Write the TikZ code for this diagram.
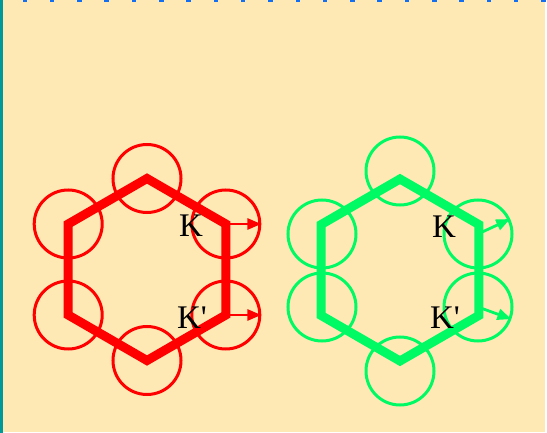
\documentclass[tikz,border=0pt]{standalone}
\usepackage{fontspec}
\setmainfont{Liberation Serif}
\usetikzlibrary{arrows.meta}
\definecolor{paper}{RGB}{254,233,181}
\definecolor{edgeteal}{RGB}{0,153,153}
\definecolor{tickblue}{RGB}{20,110,240}
\definecolor{kred}{RGB}{255,0,0}
\definecolor{kgreen}{RGB}{0,250,100}

\begin{document}
\begin{tikzpicture}[x=1pt, y=-1pt,
    ring/.style={circle, draw, line width=3pt, minimum size=68pt, inner sep=0pt},
    hexa/.style={line width=9pt, line join=miter},
    shiftarr/.style={-{Triangle[length=14pt, width=11pt]}, line width=2.8pt},
    klabel/.style={font=\fontsize{33}{33}\selectfont, inner sep=0pt}
  ]
    % frame
    \useasboundingbox (0,0) rectangle (547,433);
    \fill[white] (0,0) rectangle (547,433);
    \fill[paper] (0,0) rectangle (545,432);
    \fill[edgeteal] (0,0) rectangle (3,433);
    \foreach \i in {0,...,19}
      \fill[tickblue] (22.5+27.3*\i,0) rectangle +(4.5,1.6);

    % red lattice, rings on the corners
    \coordinate (rTop) at (147,178.5);
    \coordinate (rUR) at (225.8,224);
    \coordinate (rLR) at (225.8,315);
    \coordinate (rBot) at (147,360.5);
    \coordinate (rLL) at (68.2,315);
    \coordinate (rUL) at (68.2,224);
    \foreach \c in {rTop, rUR, rLR, rBot, rLL, rUL}
      \node[ring, kred] (ring-\c) at (\c) {};
    \draw[hexa, kred] (rTop) -- (rUR) -- (rLR) -- (rBot) -- (rLL) -- (rUL) -- cycle;
    \draw[shiftarr, kred] (rUR) -- (ring-rUR.east);
    \draw[shiftarr, kred] (rLR) -- (ring-rLR.east);
    \node[klabel] (rK) at (191,226) {K};
    \node[klabel] (rKp) at (192,318) {K\textquotesingle};

    % green lattice, rings moved off the corners
    \coordinate (gTop) at (400,179);
    \coordinate (gUR) at (478.8,224.5);
    \coordinate (gLR) at (478.8,315.5);
    \coordinate (gBot) at (400,361);
    \coordinate (gLL) at (321.2,315.5);
    \coordinate (gUL) at (321.2,224.5);
    \node[ring, kgreen] (gring-Top) at (400,171) {};
    \node[ring, kgreen] (gring-UR) at (478,234) {};
    \node[ring, kgreen] (gring-LR) at (478,307) {};
    \node[ring, kgreen] (gring-Bot) at (400,371) {};
    \node[ring, kgreen] (gring-LL) at (322,307) {};
    \node[ring, kgreen] (gring-UL) at (322,234) {};
    \draw[hexa, kgreen] (gTop) -- (gUR) -- (gLR) -- (gBot) -- (gLL) -- (gUL) -- cycle;
    \draw[shiftarr, kgreen] (gring-UR.center) -- (gring-UR.25);
    \draw[shiftarr, kgreen] (gring-LR.center) -- (gring-LR.-20);
    \node[klabel] (gK) at (444,227) {K};
    \node[klabel] (gKp) at (445,318) {K\textquotesingle};
  \end{tikzpicture}
\end{document}
